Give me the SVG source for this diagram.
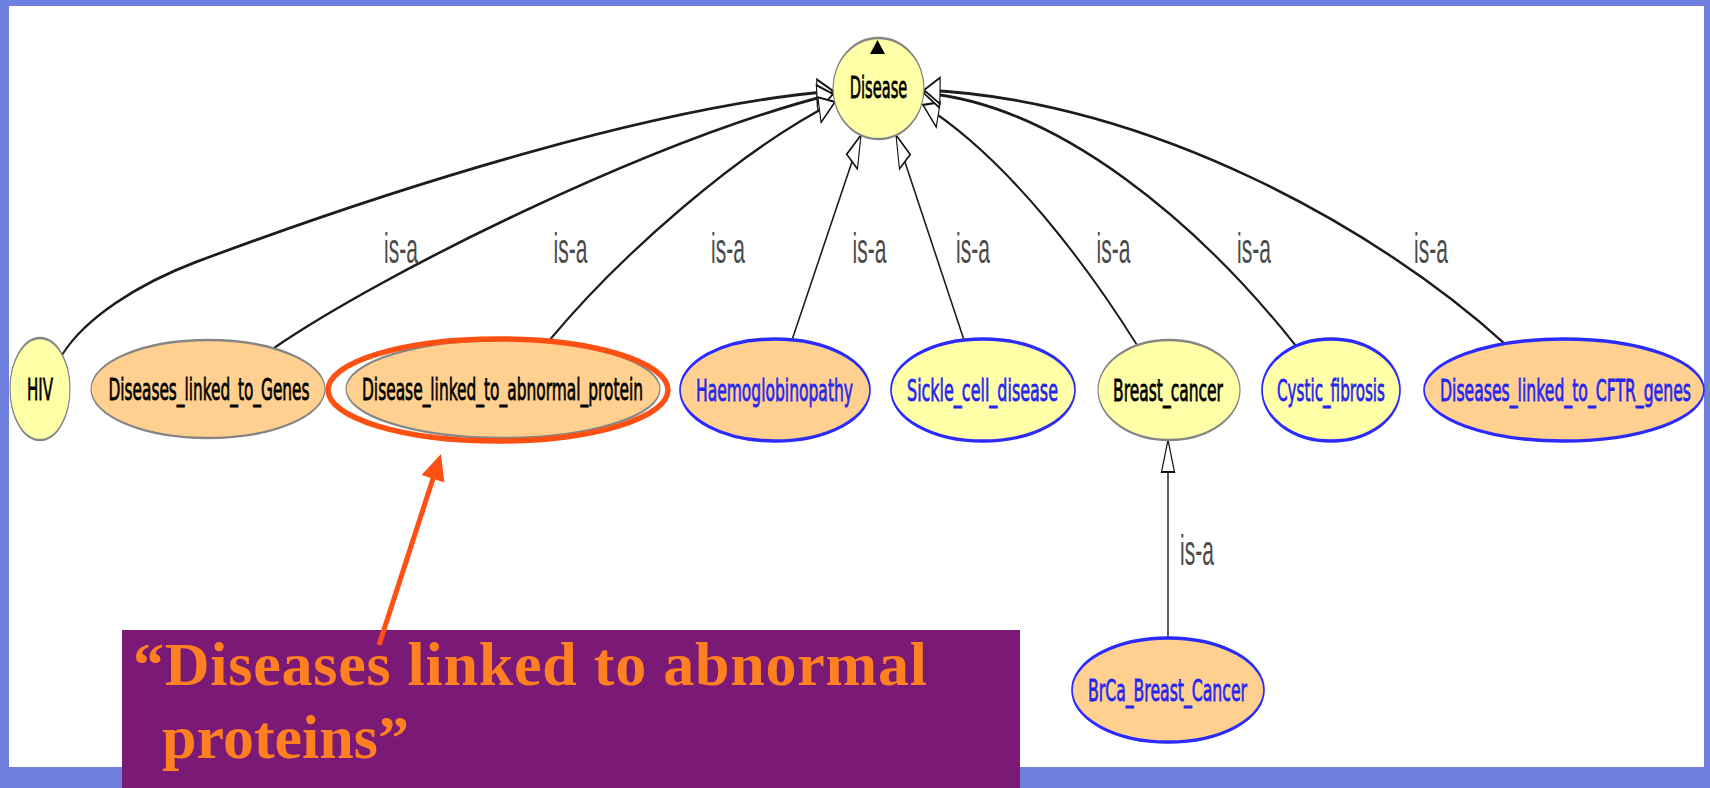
<svg xmlns="http://www.w3.org/2000/svg" width="1710" height="788" viewBox="0 0 1710 788">
  <defs>
    <style>
      .frame { fill: #6F7FDF; }
      .page { fill: #FFFFFF; }
      .yel { fill: #FFFFA8; }
      .org { fill: #FFD08F; }
      .gray { stroke: #858585; stroke-width: 2.4; }
      .blue { stroke: #2B2BFF; stroke-width: 3.4; }
      .lbl { font-family: "DejaVu Sans", "Liberation Sans", sans-serif; font-size: 30px; text-anchor: middle; stroke-width: 0.8; }
      .lbl-k { fill: #000000; stroke: #000000; }
      .lbl-b { fill: #2626F0; stroke: #2626F0; }
      .edge { fill: none; stroke: #1C1C1C; stroke-width: 2.8; marker-end: url(#isa); }
      .isa { font-family: "Liberation Sans", Arial, sans-serif; font-size: 42px; fill: #4A4A4A; text-anchor: middle; }
      .note-ring { fill: none; stroke: #FF5014; stroke-width: 5.5; }
      .note-arrow { stroke: #FF5014; stroke-width: 5; fill: none; marker-end: url(#callout); }
      .note-box { fill: #7B1A76; }
      .note-text { font-family: "Liberation Serif", "Times New Roman", serif; font-weight: bold; font-size: 62px; fill: #FF8020; }
    </style>
    <!-- open "is-a" arrowhead, drawn in the graph's own (horizontally compressed) space -->
    <marker id="isa" markerUnits="userSpaceOnUse" viewBox="-2 -2 36 30" markerWidth="36" markerHeight="30" refX="32" refY="13" orient="auto" overflow="visible">
      <path d="M0,0 L32,13 L0,26 Z" fill="#FFFFFF" stroke="#111111" stroke-width="2.2"/>
    </marker>
    <marker id="callout" markerUnits="userSpaceOnUse" viewBox="0 0 26 24" markerWidth="26" markerHeight="24" refX="4" refY="12" orient="auto" overflow="visible">
      <path d="M0,0 L26,12 L0,24 Z" fill="#FF5014"/>
    </marker>
  </defs>

  <!-- slide frame -->
  <rect class="frame" x="0" y="0" width="1710" height="788"/>
  <rect class="page" x="9" y="6" width="1695" height="761"/>

  <!-- ontology graph: laid out at double width, then compressed to half width -->
  <g id="graph" transform="scale(0.5 1)">
    <g id="connectors">
      <path id="e-hiv" class="edge" d="M124,355 C170,318 276,284 392,262 C820,182 1320,106 1666,91"/>
      <path id="e-genes" class="edge" d="M548,348 C760,275 1300,140 1666,94"/>
      <path id="e-protein" class="edge" d="M1096,342 C1240,255 1480,150 1670,102"/>
      <path id="e-haemo" class="edge" d="M1584,340 L1722,135"/>
      <path id="e-sickle" class="edge" d="M1928,340 L1792,135"/>
      <path id="e-breast" class="edge" d="M2274,345 C2180,270 2020,160 1846,105"/>
      <path id="e-cystic" class="edge" d="M2592,346 C2400,225 2120,105 1847,93"/>
      <path id="e-cftr" class="edge" d="M3010,344 C2760,230 2300,100 1848,90"/>
      <path id="e-brca" class="edge" d="M2336,638 L2336,440"/>

      <text class="isa" x="802" y="263">is-a</text>
      <text class="isa" x="1141" y="263">is-a</text>
      <text class="isa" x="1456" y="263">is-a</text>
      <text class="isa" x="1739" y="263">is-a</text>
      <text class="isa" x="1946" y="263">is-a</text>
      <text class="isa" x="2227" y="263">is-a</text>
      <text class="isa" x="2508" y="263">is-a</text>
      <text class="isa" x="2862" y="263">is-a</text>
      <text class="isa" x="2394" y="565">is-a</text>
    </g>

    <g id="n-disease">
      <ellipse class="yel gray" cx="1757" cy="88.5" rx="91" ry="50.5"/>
      <polygon points="1755,40 1740,54 1770,54" fill="#000000"/>
      <text class="lbl lbl-k" x="1757" y="98" textLength="115" lengthAdjust="spacingAndGlyphs">Disease</text>
    </g>
    <g id="n-hiv">
      <ellipse class="yel gray" cx="80" cy="389" rx="60" ry="51"/>
      <text class="lbl lbl-k" x="80" y="400" textLength="52" lengthAdjust="spacingAndGlyphs">HIV</text>
    </g>
    <g id="n-genes">
      <ellipse class="org gray" cx="416" cy="389" rx="234" ry="49"/>
      <text class="lbl lbl-k" x="418" y="400" textLength="402" lengthAdjust="spacingAndGlyphs">Diseases_linked_to_Genes</text>
    </g>
    <g id="n-protein">
      <ellipse class="org gray" cx="1006" cy="389" rx="314" ry="49"/>
      <text class="lbl lbl-k" x="1005" y="400" textLength="562" lengthAdjust="spacingAndGlyphs">Disease_linked_to_abnormal_protein</text>
    </g>
    <g id="n-haemo">
      <ellipse class="org blue" cx="1550" cy="390" rx="190" ry="51"/>
      <text class="lbl lbl-b" x="1549" y="401" textLength="314" lengthAdjust="spacingAndGlyphs">Haemoglobinopathy</text>
    </g>
    <g id="n-sickle">
      <ellipse class="yel blue" cx="1966" cy="390" rx="184" ry="51"/>
      <text class="lbl lbl-b" x="1965" y="401" textLength="302" lengthAdjust="spacingAndGlyphs">Sickle_cell_disease</text>
    </g>
    <g id="n-breast">
      <ellipse class="yel gray" cx="2338" cy="390" rx="142" ry="50"/>
      <text class="lbl lbl-k" x="2336" y="401" textLength="220" lengthAdjust="spacingAndGlyphs">Breast_cancer</text>
    </g>
    <g id="n-cystic">
      <ellipse class="yel blue" cx="2662" cy="390" rx="138" ry="51"/>
      <text class="lbl lbl-b" x="2662" y="401" textLength="216" lengthAdjust="spacingAndGlyphs">Cystic_fibrosis</text>
    </g>
    <g id="n-cftr">
      <ellipse class="org blue" cx="3128" cy="390" rx="280" ry="51"/>
      <text class="lbl lbl-b" x="3131" y="401" textLength="502" lengthAdjust="spacingAndGlyphs">Diseases_linked_to_CFTR_genes</text>
    </g>
    <g id="n-brca">
      <ellipse class="org blue" cx="2336" cy="690" rx="192" ry="52"/>
      <text class="lbl lbl-b" x="2335" y="701" textLength="318" lengthAdjust="spacingAndGlyphs">BrCa_Breast_Cancer</text>
    </g>
  </g>

  <!-- callout highlighting one class -->
  <g id="callout-note">
    <ellipse class="note-ring" cx="498" cy="390" rx="170" ry="51"/>
    <rect class="note-box" x="122" y="630" width="898" height="158"/>
    <text class="note-text" x="133" y="685" textLength="794" lengthAdjust="spacing">“Diseases linked to abnormal</text>
    <text class="note-text" x="162" y="758">proteins”</text>
    <line class="note-arrow" x1="379" y1="645" x2="434.2" y2="474.9"/>
  </g>
</svg>
